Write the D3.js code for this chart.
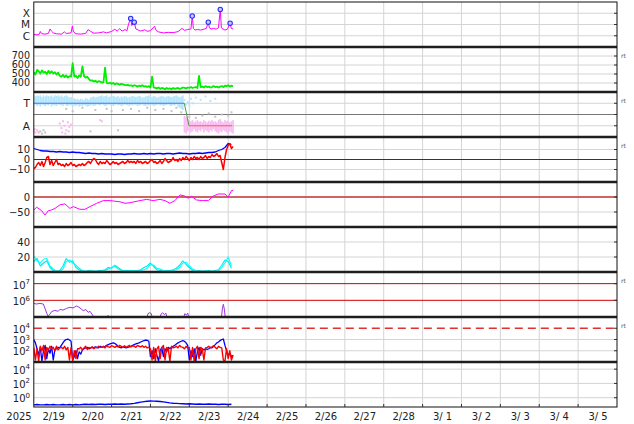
<!DOCTYPE html>
<html><head><meta charset="utf-8">
<script src="https://cdn.jsdelivr.net/npm/d3@7"></script>
<style>
body{margin:0;background:#fff;}
svg{display:block;font-family:"DejaVu Sans",sans-serif;}
</style></head><body>
<svg id="chart" width="634" height="424"></svg>
<script>
// ---------------- DATA ----------------
const startDate = Date.UTC(2025, 1, 19);
const endDate = Date.UTC(2025, 2, 6);
const yearLabel = "2025";

// Panel 1: X-ray flux (W/m2)
const xrayHours = [0,2,3.5,4,5,7,9,10,11,12,14,17,19,20,23,23.8,24.5,26,29,32,33.5,35,37,40,43,45,48,50,51.5,53,54.5,56.3,57.5,58.5,59.8,60.5,61.3,62,63,64.5,66,68.5,70,72,74.5,75.5,77,80,83,86,89,91.5,93,95,97,97.8,98.5,99.5,101,103,105,106.5,107.7,108.4,109.5,111,112.5,114,115.1,115.8,116.8,118,119.5,121.2,121.9,123];
const xrayFlux = [1.3e-6,1.2e-6,1.4e-6,2.4e-6,1.5e-6,1.4e-6,1.6e-6,4e-6,2.5e-6,1.8e-6,1.5e-6,1.4e-6,2.2e-6,1.6e-6,1.8e-6,7.4e-6,2.2e-6,1.5e-6,1.4e-6,1.6e-6,3.5e-6,2.5e-6,1.7e-6,1.8e-6,2.2e-6,1.8e-6,2.4e-6,3.8e-6,2.6e-6,4.2e-6,2.6e-6,3.5e-6,2.8e-6,1.1e-5,3.5e-5,8e-6,1.2e-5,1.5e-5,4e-6,3.2e-6,2.6e-6,3.4e-6,2.5e-6,2.8e-6,7e-6,3e-6,2.2e-6,1.8e-6,2e-6,1.9e-6,2.3e-6,4.5e-6,3e-6,3.6e-6,4e-6,5.7e-5,4.5e-6,3.2e-6,3.6e-6,3.2e-6,3.8e-6,4.5e-6,1.6e-5,5e-6,4e-6,4.5e-6,3.8e-6,5e-6,2.2e-4,5e-6,4e-6,3.2e-6,3.8e-6,1.3e-5,4.5e-6,4e-6];
const flareHours = [59.8, 62, 97.8, 107.7, 115.1, 121.2];
const flareFlux = [3.5e-5, 1.6e-5, 5.7e-5, 1.6e-5, 2.2e-4, 1.3e-5];
const xrayTickValues = [1e-4, 1e-5, 1e-6];
const xrayTickLabels = ["X", "M", "C"];

// Panel 2: solar wind speed, hourly from hour 0 to 123
const speed = [520,495,545,530,505,540,515,525,500,535,510,530,505,520,495,515,
  480,470,490,465,485,460,475,470, 620, 470,480,455,485,470, 585, 475,460,470,445,
  425,430,415,425,410,420,415,405,410, 570,
  400,395,405,390,400,385,395,390,380,390,385,380,375,
  380,370,375,365,375,370,360,370,365,375,360,365,355,365,
  350,470,
  350,345,340,350,335,345,340,330,345,335,340,330,345,335,340,345,335,340,350,345,340,350,345,355,345,350,355,345,
  480,
  355,360,350,365,355,360,350,355,365,355,360,350,360,365,355,370,365,375,360,370,365];
const speedTicks = [700, 600, 500, 400];

// Panel 3: sector (T / A)
const sectorTicks = [3, 1];
const sectorTickLabels = ["T", "A"];
const towardHi = [3.7,3.6,3.7,3.65,3.7,3.55,3.7,3.6,3.7,3.65,3.6,3.7,3.55,3.7,3.65,3.7,3.6,3.7,3.55,3.65,3.7,
  3.6,3.5,3.55,3.4,3.45,3.35,3.4,3.3,3.4,3.35,3.3,3.45,3.4,3.3,3.5,3.55,3.6,3.5,3.55,3.6,
  3.65,3.7,3.6,3.65,3.7,3.55,3.6,3.7,3.65,3.6,3.55,3.65,3.5,3.6,3.55,3.65,3.6,3.5,3.55,3.6,
  3.65,3.6,3.55,3.6,3.65,3.6,3.5,3.55,3.6,3.65,3.7,3.6,3.55,3.65,3.6,3.5,3.55,3.6,3.65,3.6,
  3.55,3.6,3.65,3.6,3.55,3.6,3.65,3.7,3.6,3.55,3.6,3.7];
const towardLo = [2.8,2.9,2.75,2.85,2.7,2.9,2.8,2.75,2.85,2.8,2.9,2.7,2.85,2.8,2.75,2.9,2.85,2.8,2.75,2.9,2.8,
  2.75,2.85,2.8,2.7,2.8,2.75,2.85,2.7,2.8,2.75,2.85,2.8,2.7,2.75,2.8,2.85,2.75,2.8,2.9,2.85,
  2.8,2.9,2.85,2.75,2.8,2.9,2.85,2.8,2.75,2.85,2.9,2.8,2.85,2.75,2.8,2.9,2.85,2.8,2.75,2.85,
  2.8,2.9,2.85,2.75,2.8,2.85,2.9,2.8,2.75,2.85,2.8,2.9,2.85,2.75,2.8,2.85,2.9,2.8,2.85,2.75,
  2.8,2.85,2.9,2.8,2.75,2.85,2.8,2.9,2.7,2.6,2.5,2.4];
const awayHi = [1.9,1.8,1.6,1.5,1.4,1.5,1.3,1.4,1.5,1.35,1.4,1.3,1.5,1.4,1.3,1.45,1.4,1.5,1.35,1.4,1.3,1.5,1.6,1.4,1.3,1.5,1.4,1.45,1.3,1.4,1.5];
const awayLo = [0.4,0.3,0.5,0.6,0.4,0.5,0.7,0.5,0.4,0.6,0.5,0.7,0.4,0.6,0.5,0.4,0.6,0.5,0.7,0.5,0.4,0.3,0.5,0.4,0.6,0.5,0.4,0.3,0.5,0.4,0.3];
const pinkPtHours = [0,0.5,1,2,3,16,17,18,19,20,21,22,23,17.5,19.5,21.5,41,42];
const pinkPtValues = [0.5,0.7,0.4,0.6,0.45,1.2,0.8,1.4,1.0,0.6,1.3,0.9,1.1,0.4,0.3,0.5,1.5,1.4];
const grayPtHours = [3,4,5,6,7,20,24,30,35,38,45,48,52,55,60,65,70,75,80,85,88,91,96,100,104,108,112,116,120,122];
const grayPtValues = [0.4,0.5,0.3,0.6,0.4,2.5,2.3,2.6,0.5,2.4,2.5,2.3,0.6,2.4,2.5,2.3,2.6,2.4,2.5,2.3,2.6,2.2,1.8,1.7,1.9,2.1,1.8,2.0,1.9,2.2];
const bluePtHours = [93,94,95,96,97,98,100,103,106,109,112];
const bluePtValues = [3.3,2.9,3.1,2.8,3.4,3.0,3.5,3.3,3.6,3.2,3.4];
const sectorLineHours = [0, 92.9, 95.8, 122.5];
const sectorLineValues = [3, 3, 1, 1];

// Panel 4: IMF Bt (2-hourly) and Bz (hourly)
const bt = [11,10,9,8.5,8.5,8,8,7.5,8,7.5,7.5,7,7.5,7,7,6.5,6,6.5,6,6,5.5,6,5.5,5.5,5.5,5,5.5,5.5,5,5.5,5.5,6,5.5,5.5,6,5.5,6,5.5,6,6,5.5,6,6,5.5,6,6.5,6,6,5.5,6,6,6.5,6,6.5,7,7,7.5,9,10,12,16,15];
const bz = [-9,-8,-5,-3, -6,-2,-7,-3,2, 3,-5,-1,-6, -3,0,-5,-4, -6,-5,-7,-4,-6,-5,-3,-6,
  -5,-7,-6,-5,-6,-4,-6,-5,-3, -2,-4,-1,1,0, -3,-5,-2,-4,-3,-4,-1, -3,-5,-4,-2,-4,-3,-5,
  -4,-3,-2,-4,-3,-1,-3,-2, -3,-2,-4,-1,-3,-2,-4,-3, -2,-4,-3,-1,0,-3,-2,-4,
  -3,-1,-4,-2,1,-1,-3,-2, -1,2,-1,0,-2,1,-1,2, 0,3,1,-1,2,0,3,1, 2,0,3,1,2,4,1,3,
  2,5,3,4,6,3, 4,-3,-10,2,10,14,16,11,13];
const bTicks = [10, 0, -10];

// Panel 5: magenta angle
const phiHours = [0,1.8,4.9,6.9,8.9,11,13.1,16.2,19.2,22.3,24.4,28.5,31.6,34.7,38.8,42.9,47,53.2,56.3,59.4,65.5,69.7,73.7,77.9,81,84,87.1,90.2,93.3,95.3,97.4,100.5,104,107.7,110.8,113.8,118,120,122.1,123];
const phiValues = [-43,-34,-46,-60,-46,-43,-38,-26,-23,-38,-32,-41,-41,-32,-21,-12,-12,-16,-21,-19,-12,-8,-12,-8,-12,-21,-12,7,3,-4,2,-10,-12,-12,3,10,10,0,22,21];
const phiTicks = [0, -50];

// Panel 6: cyan (2-hourly)
const cyanA = [21,15,12,17,18,8,4,1,1,4,14, 16,12,9,5,2,1,1,1.5,1,1, 1,2,4,6,8,4,2,2,1.5,2, 2,1.5,2,3,5,10,9,5,4,2, 2,1.5,2,3,6,12,13,8,4,2, 1,1,1.5,1,1,1,1,6,12,20,8];
const cyanB = [14,18,8,12,15,6,2,1,2,8,18, 13,15,6,3,1,1,2,1,1,2, 2,3,6,5,9,6,3,1,2,1, 1,2,3,6,8,12,7,3,2,1, 1,2,3,5,9,15,10,6,2,1, 2,1,1,2,1,2,3,9,16,14,5];
const cyanTicks = [40, 20];

// Panel 7: purple (log)
const purpleHours = [0,1.4,3.8,5.9,8,8.8,10,11,13,15,16.2,18,20.3,22.3,24.2,26.5,28.5,30.5,32.2,33.6,34.7,36.3,37.1,37.5,45,45.8,46.6,47,69.8,70.5,71.5,72.5,73.2,73.5,77.8,78.6,79.5,80.5,81.5,82.3,82.6,92.5,93.2,94.2,95,95.8,96,115.8,116.4,117,117.6,118.2];
const purpleValues = [6.6e5,6e5,6.5e5,6e5,1.7e5,1.1e5,1.5e5,2.1e5,2.5e5,2.2e5,2.9e5,2.6e5,3.3e5,3.8e5,3.5e5,4.6e5,3.5e5,2.4e5,2.8e5,1.9e5,2.2e5,1.3e5,9e4,null,9e4,1.25e5,9e4,null,9e4,1.6e5,1.8e5,1.6e5,9e4,null,9e4,1.5e5,1.8e5,1.4e5,1.7e5,9e4,null,9e4,1.6e5,1.3e5,1.7e5,9e4,null,9e4,3e5,5.8e5,3e5,9e4];
const purpleTicks = [1e7, 1e6];
const purpleExp = ["7", "6"];

// Panel 8: red / blue (log, hourly)
const fluxBlue = [1000,500,150,40,200,12,100,300,20,150,60,250,15,120, 150,200,180,300, 500,800,1000,1100,900,700,
  15,30,100,20,80,50, 120,150,180,200,150,170,200,180,220,200,180,250,200,220,250,
  300,350,400,450,500,450,350,250, 200,180,220,200,180,200,220,250,300,350,400,450,
  500,600,700,800,900,850,700, 30,100,20,150,40,12,100,200,30,150,80,200,150,
  200,250,300,400,500, 600,700,800,700,500,300, 15,100,30,150,12,80,200,40,150,
  120,150,130,150,200,180,250, 350,500,600,800,1000,1100, 300,100,40,60,30,40];
const fluxRed = [200,15,150,12,250, 100,300,15,200,120,250, 150,200,100,250,120,180, 200,150,250,120,200,
  15,200,12,100,20,150, 150,200,120,180,250,130,200,170,230,150,200,180,250,200,
  200,250,180,300,220,200,280,240,200,260,220,300,250,200,280,
  200,250,300,220,280,250,200,300,250,220,280,200, 250,180,200,150,
  15,200,12,150,250,20,180,300,15,200,150,12,250,180,
  200,250,180,300,220,200,150,250,180,200, 15,200,12,150,250,20,200,150,15,180,
  200,250,180,220,280,200,150,250,200,180,15, 12,150,20,100,15,40];
const fluxTicks = [1e4, 1e3, 1e2];
const fluxExp = ["4", "3", "2"];

// Panel 9: blue (log, 2-hourly)
const lowBlue = [0.1,0.11,0.1,0.1,0.11,0.1,0.11,0.1,0.1,0.11,0.1, 0.11,0.1,0.11,0.1,0.11,0.12,0.11,0.12,0.11,0.12,
  0.12,0.11,0.12,0.12,0.13,0.12,0.13,0.12,0.13,0.14, 0.16,0.2,0.24,0.28,0.32,0.35,0.33,0.32,0.3,0.26,
  0.22,0.19,0.17,0.16,0.15,0.14,0.13,0.14,0.13,0.12, 0.13,0.12,0.12,0.13,0.12,0.12,0.11,0.12,0.12,0.11,0.12];
const lowTicks = [1e4, 1e2, 1e0];
const lowExp = ["4", "2", "0"];

// ---------------- DRAW ----------------
const svg = d3.select('#chart');
const X0 = 33.8, X1 = 617, TOP = 2, PH = 45, NP = 9, BOTTOM = TOP + NP * PH;
const HOUR = 3600e3;
const tAt = h => new Date(startDate + h * HOUR);
const even = (h0, h1, vals) => vals.map((v, i) => ({t: tAt(h0 + (h1 - h0) * i / (vals.length - 1)), v}));
const pairs = (hs, vs) => hs.map((h, i) => ({t: tAt(h), v: vs[i]}));

const x = d3.scaleUtc().domain([new Date(startDate), new Date(endDate)]).range([X0, X1]);
const GRID = '#d4d4d4';

// vertical gridlines at midnights
const midnights = d3.utcDay.range(tAt(24), new Date(endDate));
svg.append('g').selectAll('line').data(midnights).join('line')
  .attr('x1', d => x(d)).attr('x2', d => x(d)).attr('y1', TOP).attr('y2', BOTTOM)
  .attr('stroke', GRID).attr('stroke-width', 1);

const defs = svg.append('defs');
function makePanel(i, scale, domain) {
  const y0 = TOP + i * PH;
  const y = scale.domain(domain).range([y0 + PH, y0]);
  defs.append('clipPath').attr('id', 'clip' + i).append('rect')
    .attr('x', X0).attr('y', y0).attr('width', X1 - X0).attr('height', PH);
  const g = svg.append('g');
  const gp = g.append('g').attr('clip-path', `url(#clip${i})`);
  return {y, g, gp, y0};
}
function hgrid(p, vals, color, width, dash) {
  p.gp.append('g').selectAll('line').data(vals).join('line')
    .attr('x1', X0).attr('x2', X1).attr('y1', d => p.y(d)).attr('y2', d => p.y(d))
    .attr('stroke', color || GRID).attr('stroke-width', width || 1)
    .attr('stroke-dasharray', dash || null);
  p.g.append('g').selectAll('line').data(vals).join('line')
    .attr('x1', X1 - 3).attr('x2', X1).attr('y1', d => p.y(d)).attr('y2', d => p.y(d))
    .attr('stroke', '#333').attr('stroke-width', 1);
}
function labels(p, vals, texts, fs) {
  const size = fs || 10;
  p.g.append('g').selectAll('text').data(vals).join('text')
    .attr('x', 30).attr('y', d => p.y(d) + size * 0.36).attr('text-anchor', 'end')
    .attr('font-size', size).attr('fill', '#222').text((d, i) => texts ? texts[i] : (d < 0 ? '\u2212' + Math.abs(d) : d));
}
function supLabels(p, vals, exps, dy) {
  vals.forEach((v, i) => {
    const t = p.g.append('text').attr('x', 30).attr('y', p.y(v) + dy).attr('text-anchor', 'end')
      .attr('font-size', 10).attr('fill', '#222');
    t.append('tspan').text('10');
    t.append('tspan').attr('dy', -4.5).attr('font-size', 7).text(exps[i]);
  });
}
function rt(p) {
  p.g.append('text').attr('x', 621).attr('y', p.y0 + 11).attr('font-size', 6).attr('fill', '#555').text('rt');
}
function drawLine(p, data, color, width) {
  p.gp.append('path').datum(data)
    .attr('d', d3.line().defined(d => d.v != null).x(d => x(d.t)).y(d => p.y(d.v)))
    .attr('fill', 'none').attr('stroke', color).attr('stroke-width', width || 1).attr('stroke-linejoin', 'round');
}

// Panel 1
const p1 = makePanel(0, d3.scaleLog(), [1e-7, 1e-3]);
hgrid(p1, xrayTickValues);
labels(p1, xrayTickValues, xrayTickLabels, 10.5);
drawLine(p1, pairs(xrayHours, xrayFlux), '#ff00ff', 1);
p1.gp.append('g').selectAll('circle').data(pairs(flareHours, flareFlux)).join('circle')
  .attr('cx', d => x(d.t)).attr('cy', d => p1.y(d.v)).attr('r', 2.2)
  .attr('fill', '#c8d0ff').attr('stroke', '#2a2aff').attr('stroke-width', 1.1);

// Panel 2
const p2 = makePanel(1, d3.scaleLinear(), [300, 800]);
hgrid(p2, speedTicks);
labels(p2, speedTicks, null, 9.6);
drawLine(p2, even(0, 123, speed), '#00ee00', 1.8);
rt(p2);

// Panel 3
const p3 = makePanel(2, d3.scaleLinear(), [0, 4]);
hgrid(p3, sectorTicks);
hgrid(p3, [2], '#777');
labels(p3, sectorTicks, sectorTickLabels, 10.5);
function band(p, data, lo, color) {
  p.gp.append('g').selectAll('rect').data(data).join('rect')
    .attr('x', d => x(d.t) - 0.85).attr('width', 1.7)
    .attr('y', d => p.y(d.v)).attr('height', (d, i) => p.y(lo[i]) - p.y(d.v))
    .attr('fill', color);
}
function dots(p, data, color) {
  p.gp.append('g').selectAll('rect').data(data).join('rect')
    .attr('x', d => x(d.t) - 1).attr('y', d => p.y(d.v) - 1).attr('width', 2).attr('height', 2).attr('fill', color);
}
dots(p3, pairs(grayPtHours, grayPtValues), '#c4c4c4');
band(p3, even(0, 92, towardHi), towardLo, '#b4e6fb');
band(p3, even(93, 123, awayHi), awayLo, '#f8bdf0');
dots(p3, pairs(pinkPtHours, pinkPtValues), '#f8b8ee');
dots(p3, pairs(bluePtHours, bluePtValues), '#b4e6fb');
const sl = pairs(sectorLineHours, sectorLineValues);
drawLine(p3, sl.slice(0, 2), '#5a6cff', 1);
drawLine(p3, sl.slice(1, 3), '#4e9a4e', 1);
drawLine(p3, sl.slice(2, 4), '#ff5a5a', 1);
rt(p3);

// Panel 4
const p4 = makePanel(3, d3.scaleLinear(), [-22.5, 22.5]);
hgrid(p4, [10, -10]);
hgrid(p4, [0], '#b00000');
labels(p4, bTicks);
drawLine(p4, even(0, 122, bt), '#0000ff', 1.3);
drawLine(p4, even(0, 123, bz), '#ff0000', 1.5);
rt(p4);

// Panel 5
const p5 = makePanel(4, d3.scaleLinear(), [-100, 50]);
hgrid(p5, [-50]);
hgrid(p5, [0], 'rgba(200,70,70,0.85)', 2);
labels(p5, phiTicks);
drawLine(p5, pairs(phiHours, phiValues), '#ff00ff', 1);

// Panel 6
const p6 = makePanel(5, d3.scaleLinear(), [0, 60]);
hgrid(p6, cyanTicks);
labels(p6, cyanTicks);
drawLine(p6, even(0, 122, cyanB), '#00e8e8', 1.1);
drawLine(p6, even(0, 122, cyanA), '#00ffff', 1.1);

// Panel 7
const p7 = makePanel(6, d3.scaleLog(), [1e5, 5e7]);
hgrid(p7, purpleTicks, '#cc0000');
supLabels(p7, purpleTicks, purpleExp, 5);
drawLine(p7, pairs(purpleHours, purpleValues), '#9d35db', 1);
rt(p7);

// Panel 8
const p8 = makePanel(7, d3.scaleLog(), [10, 1e5]);
hgrid(p8, [1e3, 1e2]);
hgrid(p8, [1e4], '#e03030', 1.3, '8,5');
supLabels(p8, fluxTicks, fluxExp, 4.5);
drawLine(p8, even(0, 123, fluxBlue), '#0000ff', 1.3);
drawLine(p8, even(0, 123, fluxRed), '#ff0000', 1.4);
rt(p8);

// Panel 9
const p9 = makePanel(8, d3.scaleLog(), [0.05, 1e5]);
hgrid(p9, lowTicks);
supLabels(p9, lowTicks, lowExp, 4.5);
drawLine(p9, even(0, 122, lowBlue), '#0000ff', 1.4);

// Panel separators
svg.append('g').selectAll('line').data(d3.range(1, NP)).join('line')
  .attr('x1', X0).attr('x2', X1).attr('y1', i => TOP + i * PH).attr('y2', i => TOP + i * PH)
  .attr('stroke', '#1e1e1e').attr('stroke-width', 2.6);

// Frame
svg.append('rect').attr('x', X0).attr('y', TOP).attr('width', X1 - X0).attr('height', BOTTOM - TOP)
  .attr('fill', 'none').attr('stroke', '#111').attr('stroke-width', 1);

// Bottom ticks + day labels
svg.append('g').selectAll('line').data(midnights).join('line')
  .attr('x1', d => x(d)).attr('x2', d => x(d)).attr('y1', BOTTOM - 3).attr('y2', BOTTOM)
  .attr('stroke', '#333');
const noons = d3.utcDay.range(new Date(startDate), new Date(endDate)).map(d => new Date(+d + 12 * HOUR));
const fmt = d => (d.getUTCMonth() + 1) + '/' + (d.getUTCDate() < 10 ? ' ' + d.getUTCDate() : d.getUTCDate());
const xAxis = d3.axisBottom(x).tickValues(noons).tickFormat(fmt).tickSize(0).tickPadding(0);
const ga = svg.append('g').attr('transform', `translate(0,${BOTTOM})`).call(xAxis);
ga.select('.domain').remove();
ga.selectAll('text').attr('font-size', 10).attr('fill', '#222').attr('font-family', '"DejaVu Sans",sans-serif')
  .attr('dy', null).attr('y', 13).style('white-space', 'pre');
svg.append('text').attr('x', 19).attr('y', BOTTOM + 13).attr('text-anchor', 'middle')
  .attr('font-size', 10).attr('fill', '#222').text(yearLabel);
</script>
</body></html>
